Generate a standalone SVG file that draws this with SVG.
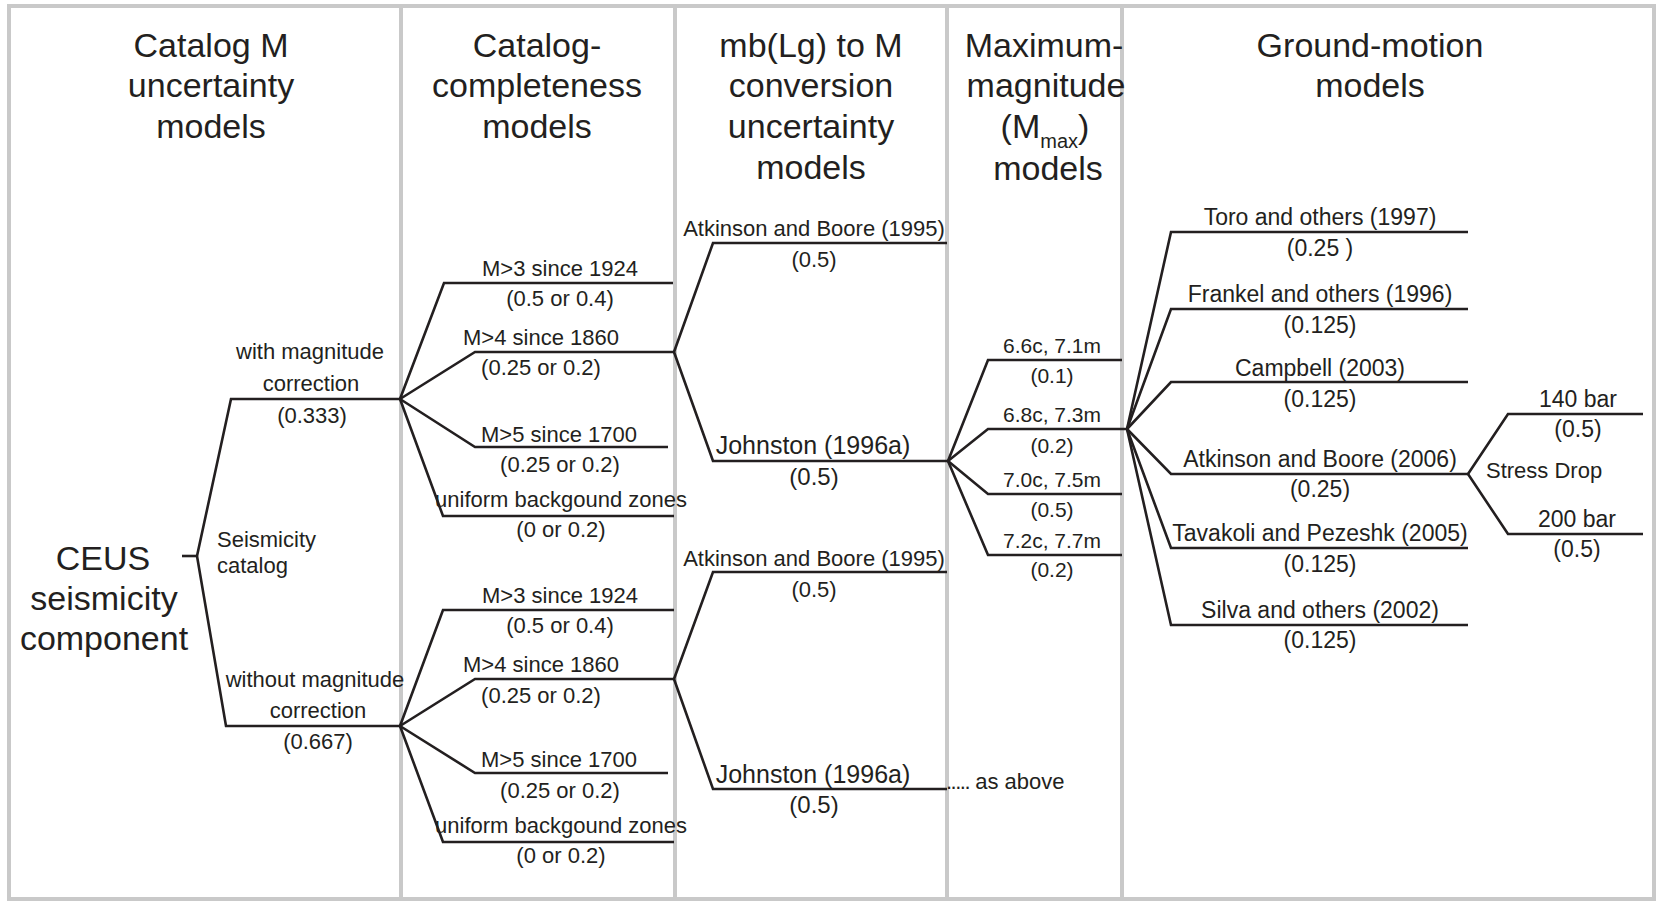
<svg xmlns="http://www.w3.org/2000/svg" width="1657" height="901" viewBox="0 0 1657 901">
<style>
text{font-family:"Liberation Sans",Arial,sans-serif;fill:#231f20}
.h{font-size:34px;text-anchor:middle}
.c{font-size:34px;text-anchor:middle}
.a{font-size:22px;text-anchor:middle}
.b{font-size:22px}
.j{font-size:25px;text-anchor:middle}
.w{font-size:24px;text-anchor:middle}
.m{font-size:21px;text-anchor:middle}
.g{font-size:23px;text-anchor:middle}
.frame{fill:none;stroke:#c9c9c9;stroke-width:4}
.con path{fill:none;stroke:#231f20;stroke-width:2.6;stroke-linejoin:miter}
</style>
<rect x="0" y="0" width="1657" height="901" fill="#ffffff"/>
<g id="frame">
<rect class="frame" x="9" y="6" width="1645" height="893"/>
<line class="frame" x1="401" y1="6" x2="401" y2="899"/>
<line class="frame" x1="675" y1="6" x2="675" y2="899"/>
<line class="frame" x1="947" y1="6" x2="947" y2="899"/>
<line class="frame" x1="1122" y1="6" x2="1122" y2="899"/>
</g>
<g id="headers">
<text class="h" x="211" y="57">Catalog M</text>
<text class="h" x="211" y="97">uncertainty</text>
<text class="h" x="211" y="138">models</text>
<text class="h" x="537" y="57">Catalog-</text>
<text class="h" x="537" y="97">completeness</text>
<text class="h" x="537" y="138">models</text>
<text class="h" x="811" y="57">mb(Lg) to M</text>
<text class="h" x="811" y="97">conversion</text>
<text class="h" x="811" y="138">uncertainty</text>
<text class="h" x="811" y="179">models</text>
<text class="h" x="1044" y="57">Maximum-</text>
<text class="h" x="1046" y="97">magnitude</text>
<text class="h" x="1045" y="138">(M<tspan font-size="20" dy="10">max</tspan><tspan dy="-10">)</tspan></text>
<text class="h" x="1048" y="180">models</text>
<text class="h" x="1370" y="57">Ground-motion</text>
<text class="h" x="1370" y="97">models</text>
</g>
<g id="connectors" class="con">
<path d="M182 556 H197"/>
<path d="M197 556 L231 399 H400"/>
<path d="M197 556 L226 726 H400"/>
<path d="M400 399 L444 283 H673"/>
<path d="M400 399 L475 352 H674"/>
<path d="M400 399 L475 447 H668"/>
<path d="M400 399 L443 516 H674"/>
<path d="M400 726 L443 610 H674"/>
<path d="M400 726 L475 679 H674"/>
<path d="M400 726 L475 773 H668"/>
<path d="M400 726 L443 842 H674"/>
<path d="M674 352 L713 243 H947"/>
<path d="M674 352 L713 461 H948"/>
<path d="M674 679 L713 572 H947"/>
<path d="M674 679 L713 789 H947"/>
<path d="M948 461 L988 360 H1122"/>
<path d="M948 461 L988 429 H1127"/>
<path d="M948 461 L988 494 H1122"/>
<path d="M948 461 L988 555 H1122"/>
<path d="M1127 429 L1171 232 H1468"/>
<path d="M1127 429 L1171 309 H1468"/>
<path d="M1127 429 L1171 382 H1468"/>
<path d="M1127 429 L1171 474 H1468"/>
<path d="M1127 429 L1171 548 H1468"/>
<path d="M1127 429 L1171 625 H1468"/>
<path d="M1468 474 L1508 414 H1643"/>
<path d="M1468 474 L1508 534 H1643"/>
</g>
<g id="root">
<text class="c" x="103" y="570">CEUS</text>
<text class="c" x="104" y="610">seismicity</text>
<text class="c" x="104" y="650">component</text>
</g>
<g id="seismicity-catalog">
<text class="b" x="217" y="547">Seismicity</text>
<text class="b" x="217" y="573">catalog</text>
</g>
<g id="with-correction">
<text class="a" x="310" y="359">with magnitude</text>
<text class="a" x="311" y="391">correction</text>
<text class="a" x="312" y="423">(0.333)</text>
</g>
<g id="without-correction">
<text class="a" x="315" y="687" font-size="22.5">without magnitude</text>
<text class="a" x="318" y="718">correction</text>
<text class="a" x="318" y="749">(0.667)</text>
</g>
<g id="cc-upper">
<text class="a" x="560" y="276">M&gt;3 since 1924</text>
<text class="a" x="560" y="306">(0.5 or 0.4)</text>
<text class="a" x="541" y="345">M&gt;4 since 1860</text>
<text class="a" x="541" y="375">(0.25 or 0.2)</text>
<text class="a" x="559" y="442">M&gt;5 since 1700</text>
<text class="a" x="560" y="472">(0.25 or 0.2)</text>
<text class="a" x="561" y="507">uniform backgound zones</text>
<text class="a" x="561" y="537">(0 or 0.2)</text>
</g>
<g id="cc-lower">
<text class="a" x="560" y="603">M&gt;3 since 1924</text>
<text class="a" x="560" y="633">(0.5 or 0.4)</text>
<text class="a" x="541" y="672">M&gt;4 since 1860</text>
<text class="a" x="541" y="703">(0.25 or 0.2)</text>
<text class="a" x="559" y="767">M&gt;5 since 1700</text>
<text class="a" x="560" y="798">(0.25 or 0.2)</text>
<text class="a" x="561" y="833">uniform backgound zones</text>
<text class="a" x="561" y="863">(0 or 0.2)</text>
</g>
<g id="conv-upper">
<text class="a" x="814" y="236">Atkinson and Boore (1995)</text>
<text class="a" x="814" y="267">(0.5)</text>
<text class="j" x="813" y="454">Johnston (1996a)</text>
<text class="w" x="814" y="485">(0.5)</text>
</g>
<g id="conv-lower">
<text class="a" x="814" y="566">Atkinson and Boore (1995)</text>
<text class="a" x="814" y="597">(0.5)</text>
<text class="j" x="813" y="783">Johnston (1996a)</text>
<text class="w" x="814" y="813">(0.5)</text>
<text class="b" x="946" y="789"><tspan letter-spacing="-1.5">.....</tspan> as above</text>
</g>
<g id="mmax">
<text class="m" x="1052" y="353">6.6c, 7.1m</text>
<text class="m" x="1052" y="383">(0.1)</text>
<text class="m" x="1052" y="422">6.8c, 7.3m</text>
<text class="m" x="1052" y="453">(0.2)</text>
<text class="m" x="1052" y="487">7.0c, 7.5m</text>
<text class="m" x="1052" y="517">(0.5)</text>
<text class="m" x="1052" y="548">7.2c, 7.7m</text>
<text class="m" x="1052" y="577">(0.2)</text>
</g>
<g id="gmm">
<text class="g" x="1320" y="225" font-size="23.5">Toro and others (1997)</text>
<text class="g" x="1320" y="256">(0.25 )</text>
<text class="g" x="1320" y="302" font-size="23.5">Frankel and others (1996)</text>
<text class="g" x="1320" y="333">(0.125)</text>
<text class="g" x="1320" y="376">Campbell (2003)</text>
<text class="g" x="1320" y="407">(0.125)</text>
<text class="g" x="1320" y="467" font-size="22.5">Atkinson and Boore (2006)</text>
<text class="g" x="1320" y="497">(0.25)</text>
<text class="g" x="1320" y="541" font-size="21">Tavakoli and Pezeshk (2005)</text>
<text class="g" x="1320" y="572">(0.125)</text>
<text class="g" x="1320" y="618" font-size="22">Silva and others (2002)</text>
<text class="g" x="1320" y="648">(0.125)</text>
</g>
<g id="stress-drop">
<text class="b" x="1486" y="478">Stress Drop</text>
<text class="g" x="1578" y="407">140 bar</text>
<text class="g" x="1578" y="437">(0.5)</text>
<text class="g" x="1577" y="527">200 bar</text>
<text class="g" x="1577" y="557">(0.5)</text>
</g>
</svg>
